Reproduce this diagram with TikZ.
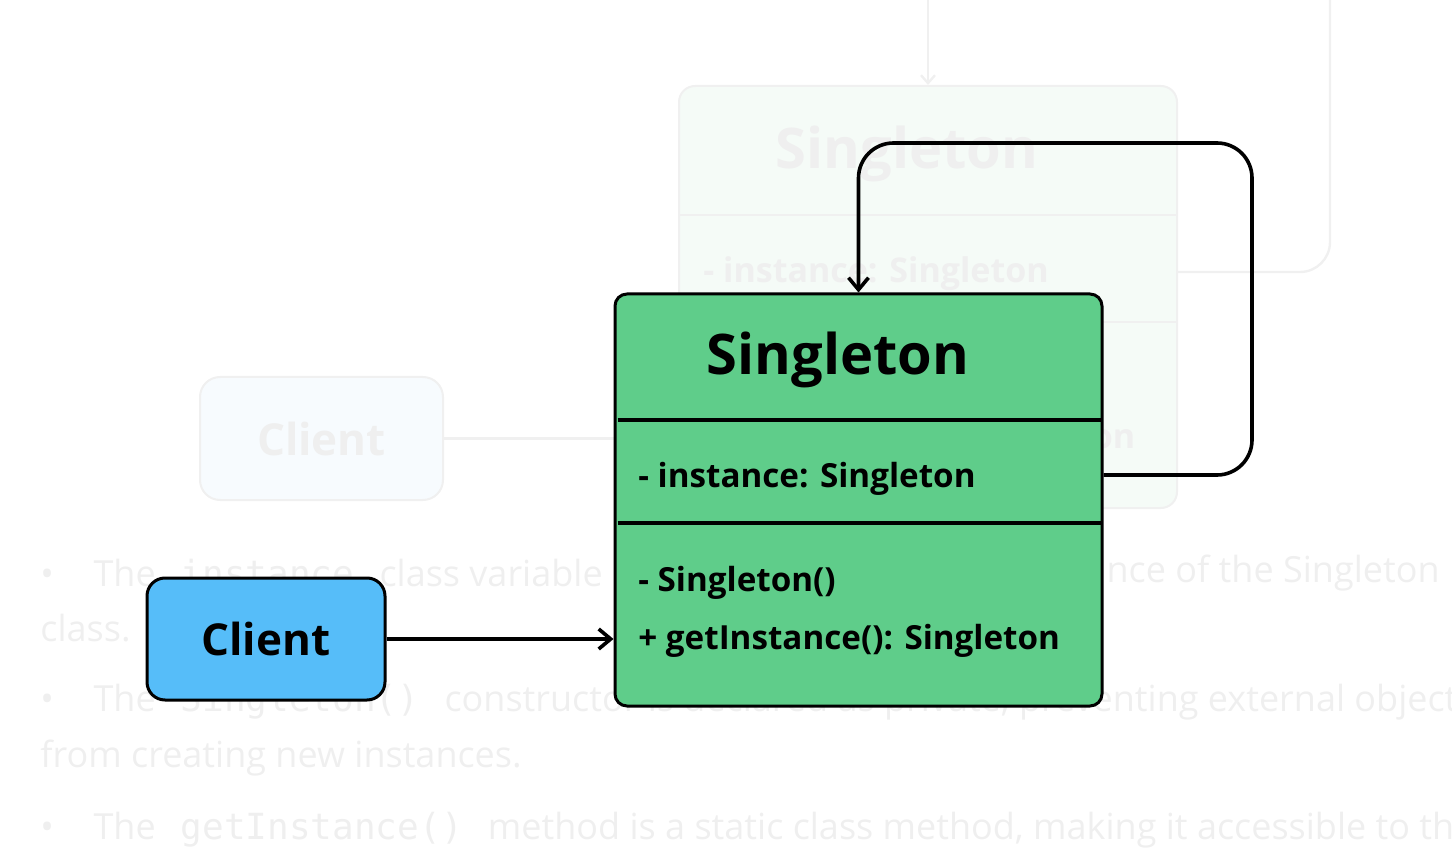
\documentclass[tikz,border=0pt]{standalone}
\usepackage{fontspec}
\IfFontExistsTF{Noto Sans Bold}
  {\setmainfont{Noto Sans}[BoldFont={Noto Sans Bold}]}
  {\setmainfont{Open Sans}}
\setmonofont{DejaVu Sans Mono}
\usetikzlibrary{arrows.meta,positioning,calc}
\definecolor{singgreen}{HTML}{5FCD8A}
\definecolor{clientblue}{HTML}{56BDF9}
\definecolor{ghosttext}{HTML}{EFEFEF}
\definecolor{ghostline}{HTML}{F0F0F0}
\definecolor{ghostgreen}{HTML}{F5FBF7}
\definecolor{ghostblue}{HTML}{F7FBFE}

\begin{document}
\begin{tikzpicture}[x=0.5pt,y=-0.5pt,
    classbox/.style={draw=black,line width=1.5pt,fill=singgreen,rounded corners=6pt,
      minimum width=243.5pt,minimum height=206pt,inner sep=0pt},
    clientbox/.style={draw=black,line width=1.5pt,fill=clientblue,rounded corners=9pt,
      minimum width=119pt,minimum height=61pt,inner sep=0pt,
      font=\bfseries\fontsize{22}{24}\selectfont},
    titletext/.style={font=\bfseries\fontsize{28}{30}\selectfont},
    membertext/.style={anchor=west,inner sep=0pt,font=\bfseries\fontsize{16.6}{20}\selectfont},
    sepline/.style={line width=1.7pt},
    conn/.style={line width=1.8pt,-{Straight Barb[length=6pt,width=10pt,line width=1.8pt]}},
    ghostbox/.style={draw=ghostline,line width=1pt,fill=ghostgreen,rounded corners=8pt,
      minimum width=249pt,minimum height=211pt,inner sep=0pt},
    ghostclient/.style={draw=ghostline,line width=1pt,fill=ghostblue,rounded corners=10pt,
      minimum width=121.5pt,minimum height=61.5pt,inner sep=0pt,text=ghosttext,
      font=\bfseries\fontsize{22}{24}\selectfont},
    ghostconn/.style={draw=ghostline,line width=1.2pt},
    bullettext/.style={inner sep=0pt,text=ghosttext,font=\fontsize{18}{20}\selectfont}]
  \useasboundingbox (0,0) rectangle (1452,866);
  \clip (0,0) rectangle (1452,866);

  % faded frame behind the diagram
  \node[ghostbox] (gsingle) at (928,297) {};
  \draw[ghostline,line width=1.2pt] (gsingle.west |- 0,215) -- (gsingle.east |- 0,215);
  \draw[ghostline,line width=1.2pt] (gsingle.west |- 0,322) -- (gsingle.east |- 0,322);
  \node[titletext,text=ghosttext] (gtitle) at (907,154) {Singleton};
  \node[membertext,text=ghosttext,font=\bfseries\fontsize{17}{20}\selectfont] (gattr) at (703,274) {- instance: Singleton};
  \node[membertext,text=ghosttext,font=\bfseries\fontsize{17}{20}\selectfont] (gget) at (703,440) {+ getInstance(): Singleton};
  \node[ghostclient] (gclient) at (321.5,438.5) {Client};
  \draw[ghostconn] (gclient.east) -- (gsingle.west |- gclient.east);
  \draw[ghostconn,-{Straight Barb[length=4pt,width=7pt]}] (928,-10) -- (gsingle.north);
  \draw[ghostconn,rounded corners=15pt] (1330,-10) -- (1330,272) -- (gsingle.east |- 0,272);

  \node[bullettext,anchor=west] (b1) at (40,573) {•\hspace{1.1em}The\hspace{0.7em}\texttt{instance}\hspace{0.7em}class variable};
  \node[bullettext,anchor=east] (b1r) at (1440,573) {nce of the Singleton};
  \node[bullettext,anchor=west] (b1b) at (40,628) {class.};
  \node[bullettext,anchor=west] (b2) at (40,702) {•\hspace{1.1em}The\hspace{0.7em}\texttt{Singleton()}\hspace{0.7em}constructor is declared as private, preventing external objects};
  \node[bullettext,anchor=west] (b2b) at (40,758) {from creating new instances.};
  \node[bullettext,anchor=west] (b3) at (40,830) {•\hspace{1.1em}The\hspace{0.7em}\texttt{getInstance()}\hspace{0.7em}method is a static class method, making it accessible to the};

  % singleton class
  \node[classbox] (single) at (858.5,500) {};
  \draw[sepline] ([xshift=2pt]single.west |- 0,420) -- ([xshift=-1pt]single.east |- 0,420);
  \draw[sepline] ([xshift=2pt]single.west |- 0,523) -- ([xshift=-1pt]single.east |- 0,523);
  \node[titletext] (title) at (838,360) {Singleton};
  \node[membertext] (attr) at (638,479) {- instance: Singleton};
  \node[membertext] (ctor) at (638,583) {- Singleton()};
  \node[membertext] (getinst) at (638,641) {+ getInstance(): Singleton};

  % client
  \node[clientbox] (client) at (266,639) {Client};
  \draw[conn] (client.east) -- (single.west |- client.east);

  % self reference
  \coordinate (loopR) at (1252,475);
  \coordinate (loopT) at (1252,143);
  \draw[conn,rounded corners=17.5pt] (single.east |- loopR) -- (loopR) -- (loopT) -- (858.5,143) -- (single.north);
\end{tikzpicture}
\end{document}
